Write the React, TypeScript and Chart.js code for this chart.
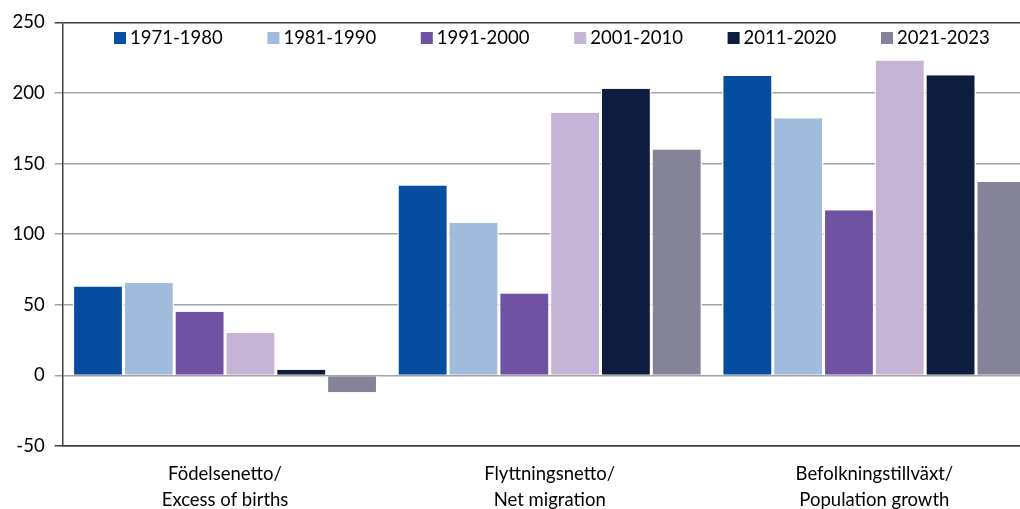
import React, { useEffect, useRef } from "react";
import { Chart, registerables } from "chart.js";

Chart.register(...registerables);

const categories: string[][] = [
  ["Födelsenetto/", "Excess of births"],
  ["Flyttningsnetto/", "Net migration"],
  ["Befolkningstillväxt/", "Population growth"],
];
const seriesLabels = ["1971-1980", "1981-1990", "1991-2000", "2001-2010", "2011-2020", "2021-2023"];
const values1971_1980 = [63, 134.5, 212];
const values1981_1990 = [65.5, 108, 182];
const values1991_2000 = [45, 58, 117];
const values2001_2010 = [30, 186, 223];
const values2011_2020 = [4, 203, 212.5];
const values2021_2023 = [-12, 160, 137];
const seriesColors = ["#064DA0", "#A0BBDB", "#6F52A1", "#C6B4D6", "#0E1C40", "#858397"];
const yMin = -50;
const yMax = 250;
const yStep = 50;

const FONT = "Lato, 'Open Sans', sans-serif";

const insideLegend = {
  id: "insideLegend",
  afterDraw(chart: any) {
    const ctx = chart.ctx;
    const left = chart.chartArea.left;
    ctx.save();
    ctx.font = `18.5px ${FONT}`;
    ctx.textBaseline = "middle";
    ctx.textAlign = "left";
    chart.data.datasets.forEach((ds: any, i: number) => {
      const x = left + 51.3 + i * 153.4;
      ctx.fillStyle = ds.backgroundColor;
      ctx.fillRect(x, 32, 12, 12);
      ctx.fillStyle = "#000";
      ctx.fillText(ds.label, x + 16, 38.5);
    });
    ctx.restore();
  },
};

export default function App() {
  const ref = useRef<HTMLCanvasElement | null>(null);
  useEffect(() => {
    if (!ref.current) return;
    const all = [values1971_1980, values1981_1990, values1991_2000, values2001_2010, values2011_2020, values2021_2023];
    const chart = new Chart(ref.current, {
      type: "bar",
      data: {
        labels: categories,
        datasets: all.map((d, i) => ({
          label: seriesLabels[i],
          data: d,
          backgroundColor: seriesColors[i],
          borderColor: "#ffffff",
          borderWidth: { left: 1.5, right: 1.5, top: 0, bottom: 0 },
          borderSkipped: false,
          categoryPercentage: 0.939,
          barPercentage: 1,
        })),
      },
      options: {
        responsive: false,
        animation: false,
        devicePixelRatio: 1,
        layout: { padding: { top: 22.3, left: 0, right: 3.3, bottom: 0 } },
        plugins: {
          legend: { display: false },
          tooltip: { enabled: false },
        },
        scales: {
          x: {
            grid: { display: false, drawTicks: false },
            border: { display: true, color: "#404040", width: 1.5 },
            ticks: {
              color: "#000",
              font: { family: FONT, size: 18.5, lineHeight: 1.4 },
              padding: 15,
              maxRotation: 0,
              autoSkip: false,
            },
            afterFit(scale: any) {
              scale.height = 63;
            },
          },
          y: {
            min: yMin,
            max: yMax,
            ticks: {
              stepSize: yStep,
              color: "#000",
              font: { family: FONT, size: 18.5 },
              padding: 10,
            },
            grid: {
              color: (c: any) => (c.tick && (c.tick.value === yMax || c.tick.value === yMin) ? "#404040" : "#a3a3a3"),
              lineWidth: 1.5,
              tickLength: 8,
              drawTicks: true,
            },
            border: { display: true, color: "#404040", width: 1.5 },
            afterFit(scale: any) {
              scale.width = 62.7;
            },
          },
        },
      },
      plugins: [insideLegend],
    });
    return () => chart.destroy();
  }, []);
  return (
    <div style={{ position: "absolute", left: 0, top: 0, width: 1020, height: 509, overflow: "hidden", background: "#fff" }}>
      <canvas ref={ref} width={1040} height={509} style={{ width: 1040, height: 509, display: "block" }} />
    </div>
  );
}
